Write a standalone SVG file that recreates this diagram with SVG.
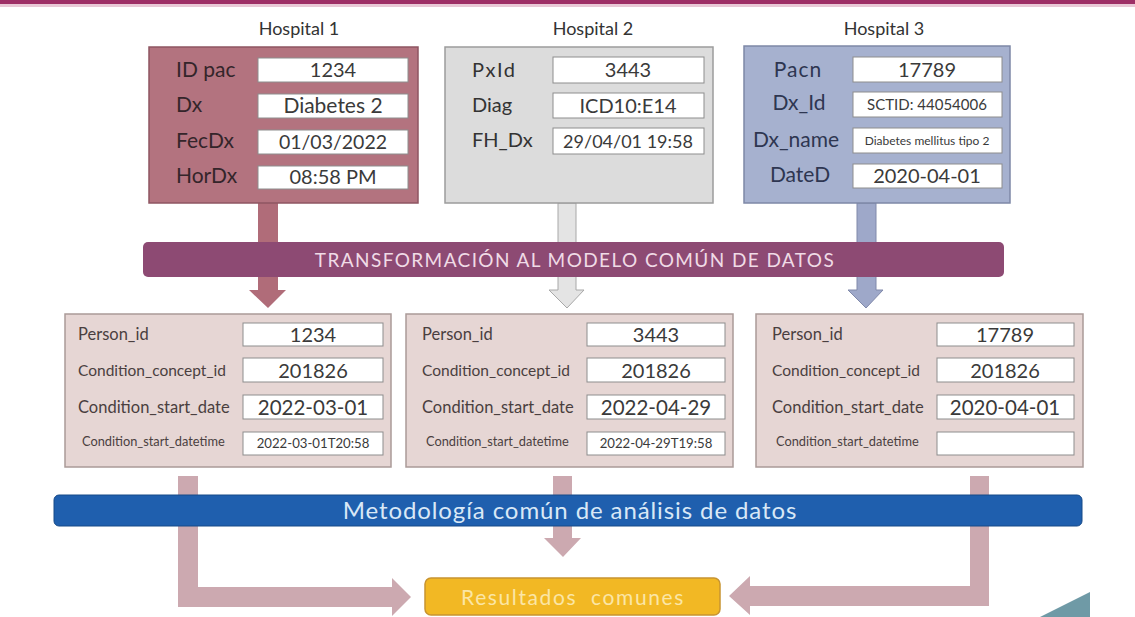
<svg xmlns="http://www.w3.org/2000/svg" width="1135" height="617" viewBox="0 0 1135 617">
<style>
text{font-family:Lato,"Open Sans","Liberation Sans",sans-serif}
.title{font-size:18px;fill:#333;text-anchor:middle}
.val{fill:#fff;stroke:#8d8d8d;stroke-width:1}
.vt{fill:#3a3a3a;text-anchor:middle}
.blab{fill:#4a3f3f}
.bbox{fill:#e6d6d4;stroke:#aa9a98;stroke-width:1.5}
</style>
<rect x="0" y="0" width="1135" height="4" fill="#9e2f66"/>
<rect x="0" y="4" width="1135" height="3" fill="#e9c9d6"/>
<text class="title" x="299" y="35">Hospital 1</text>
<text class="title" x="593" y="35">Hospital 2</text>
<text class="title" x="884" y="35">Hospital 3</text>

<g id="connectors">
  <path d="M258,203 H278 V290 H286 L268,308 L249,290 H258 Z" fill="#b06c79"/>
  <path d="M558,203 H576 V290 H584 L567,308 L549,290 H558 Z" fill="#e4e4e4" stroke="#a8a8a8" stroke-width="1"/>
  <path d="M857,203 H876 V290 H883 L866,308 L848,290 H857 Z" fill="#9ea8c9" stroke="#8089aa" stroke-width="1"/>
  <path d="M178,476 H198 V587 H392 V578 L411,597 L392,616 V607 H178 Z" fill="#cca9b0"/>
  <path d="M553,476 H572 V538 H581 L563,557 L544,538 H553 Z" fill="#cca9b0"/>
  <path d="M970,476 H989 V606 H750 V615 L729,596 L750,576 V586 H970 Z" fill="#cca9b0"/>
</g>

<g id="hospital1">
  <rect x="149" y="47" width="269" height="156" fill="#b3737f" stroke="#8e5562" stroke-width="1.5"/>
  <g fill="#34252a" font-size="21">
    <text x="176" y="77">ID pac</text>
    <text x="176" y="112">Dx</text>
    <text x="176" y="148">FecDx</text>
    <text x="176" y="183">HorDx</text>
  </g>
  <rect class="val" x="258" y="58" width="150" height="24"/>
  <rect class="val" x="258" y="94" width="150" height="24"/>
  <rect class="val" x="258" y="130" width="150" height="24"/>
  <rect class="val" x="258" y="166" width="150" height="23"/>
  <text class="vt" x="333" y="77" font-size="20">1234</text>
  <text class="vt" x="333" y="113" font-size="21">Diabetes 2</text>
  <text class="vt" x="333" y="149" font-size="19.5">01/03/2022</text>
  <text class="vt" x="333" y="184" font-size="20">08:58 PM</text>
</g>

<g id="hospital2">
  <rect x="445" y="47" width="268" height="156" fill="#dcdcdc" stroke="#9c9c9c" stroke-width="1.5"/>
  <g fill="#333" font-size="20">
    <text x="472" y="77" letter-spacing="1.5">PxId</text>
    <text x="472" y="112">Diag</text>
    <text x="472" y="147">FH_Dx</text>
  </g>
  <rect class="val" x="553" y="57" width="151" height="26"/>
  <rect class="val" x="553" y="93" width="151" height="25"/>
  <rect class="val" x="553" y="128" width="151" height="26"/>
  <text class="vt" x="628" y="77" font-size="20">3443</text>
  <text class="vt" x="628" y="113" font-size="20">ICD10:E14</text>
  <text class="vt" x="628" y="148" font-size="18">29/04/01 19:58</text>
</g>

<g id="hospital3">
  <rect x="744" y="46" width="266" height="157" fill="#a6b1cf" stroke="#7e88a7" stroke-width="1.5"/>
  <g fill="#2e3651" text-anchor="middle" font-size="21">
    <text x="798" y="77" letter-spacing="1">Pacn</text>
    <text x="799" y="110">Dx_Id</text>
    <text x="796" y="147">Dx_name</text>
    <text x="800" y="182">DateD</text>
  </g>
  <rect class="val" x="853" y="57" width="149" height="25"/>
  <rect class="val" x="853" y="92" width="149" height="25"/>
  <rect class="val" x="853" y="128" width="149" height="25"/>
  <rect class="val" x="853" y="164" width="149" height="24"/>
  <text class="vt" x="927" y="77" font-size="20">17789</text>
  <text class="vt" x="927" y="110" font-size="15">SCTID: 44054006</text>
  <text class="vt" x="927" y="145" font-size="12">Diabetes mellitus tipo 2</text>
  <text class="vt" x="927" y="183" font-size="20">2020-04-01</text>
</g>

<g id="transform">
  <rect x="143" y="242" width="861" height="35" rx="5" fill="#8d4a73"/>
  <text x="575" y="267" font-size="19" letter-spacing="1.4" fill="#f0dbe6" text-anchor="middle">TRANSFORMACIÓN AL MODELO COMÚN DE DATOS</text>
</g>

<g id="cdm1">
  <rect class="bbox" x="65" y="314" width="326" height="153"/>
  <text class="blab" x="78" y="340" font-size="16.5">Person_id</text>
  <text class="blab" x="78" y="376" font-size="15.5">Condition_concept_id</text>
  <text class="blab" x="78" y="413" font-size="16.5">Condition_start_date</text>
  <text class="blab" x="82" y="446" font-size="12.8">Condition_start_datetime</text>
  <rect class="val" x="243" y="323" width="140" height="23"/>
  <rect class="val" x="243" y="358" width="140" height="24"/>
  <rect class="val" x="243" y="395" width="140" height="24"/>
  <rect class="val" x="243" y="432" width="140" height="23"/>
  <text class="vt" x="313" y="342" font-size="20">1234</text>
  <text class="vt" x="313" y="378" font-size="20">201826</text>
  <text class="vt" x="313" y="415" font-size="20.5">2022-03-01</text>
  <text class="vt" x="313" y="448" font-size="13.2">2022-03-01T20:58</text>
</g>

<g id="cdm2">
  <rect class="bbox" x="406" y="314" width="327" height="153"/>
  <text class="blab" x="422" y="340" font-size="16.5">Person_id</text>
  <text class="blab" x="422" y="376" font-size="15.5">Condition_concept_id</text>
  <text class="blab" x="422" y="413" font-size="16.5">Condition_start_date</text>
  <text class="blab" x="426" y="446" font-size="12.8">Condition_start_datetime</text>
  <rect class="val" x="587" y="323" width="138" height="23"/>
  <rect class="val" x="587" y="358" width="138" height="24"/>
  <rect class="val" x="587" y="395" width="138" height="24"/>
  <rect class="val" x="587" y="432" width="138" height="23"/>
  <text class="vt" x="656" y="342" font-size="20">3443</text>
  <text class="vt" x="656" y="378" font-size="20">201826</text>
  <text class="vt" x="656" y="415" font-size="20.5">2022-04-29</text>
  <text class="vt" x="656" y="448" font-size="13.2">2022-04-29T19:58</text>
</g>

<g id="cdm3">
  <rect class="bbox" x="756" y="314" width="327" height="153"/>
  <text class="blab" x="772" y="340" font-size="16.5">Person_id</text>
  <text class="blab" x="772" y="376" font-size="15.5">Condition_concept_id</text>
  <text class="blab" x="772" y="413" font-size="16.5">Condition_start_date</text>
  <text class="blab" x="776" y="446" font-size="12.8">Condition_start_datetime</text>
  <rect class="val" x="937" y="323" width="137" height="23"/>
  <rect class="val" x="937" y="358" width="137" height="24"/>
  <rect class="val" x="937" y="395" width="137" height="24"/>
  <rect class="val" x="937" y="432" width="137" height="23"/>
  <text class="vt" x="1005" y="342" font-size="20">17789</text>
  <text class="vt" x="1005" y="378" font-size="20">201826</text>
  <text class="vt" x="1005" y="415" font-size="20.5">2020-04-01</text>
</g>

<g id="metodologia">
  <rect x="54" y="495" width="1028" height="31" rx="5" fill="#1f5fae" stroke="#174a88" stroke-width="1"/>
  <text x="570" y="519" font-size="24" letter-spacing="0.9" fill="#d9e8f6" text-anchor="middle">Metodología común de análisis de datos</text>
</g>

<g id="resultados">
  <rect x="425" y="578" width="295" height="37" rx="6" fill="#f2b824" stroke="#c89430" stroke-width="1.5"/>
  <text x="573" y="605" font-size="21" fill="#fbe6a6" text-anchor="middle" letter-spacing="1.6" xml:space="preserve">Resultados  comunes</text>
</g>

<polygon points="1040,617 1090,592 1090,617" fill="#6f9aa6"/>
</svg>
